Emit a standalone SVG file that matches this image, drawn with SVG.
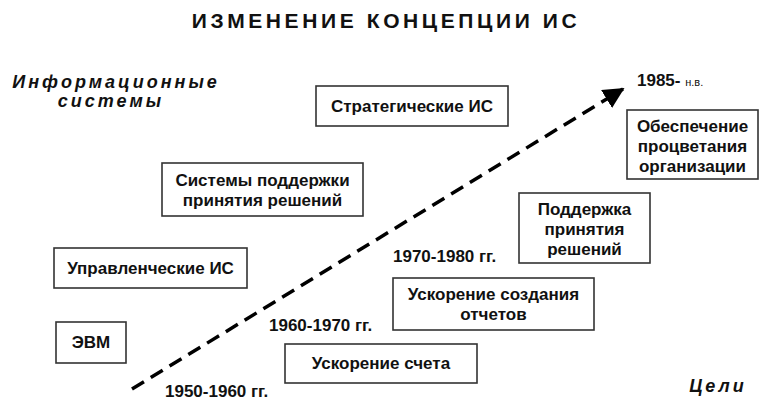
<svg xmlns="http://www.w3.org/2000/svg" width="767" height="405" viewBox="0 0 767 405">
<defs>
<style>
.box{fill:#fff;stroke:#333;stroke-width:1.6}
.t{font-family:"Liberation Sans",Arial,sans-serif;font-weight:bold;font-size:17px;fill:#111;text-anchor:middle}
.lbl{font-family:"Liberation Sans",Arial,sans-serif;font-weight:bold;font-size:17px;fill:#111}
.it{font-family:"Liberation Sans",Arial,sans-serif;font-weight:bold;font-style:italic;font-size:18px;fill:#111;letter-spacing:3px}
</style>
<marker id="ah" markerWidth="8" markerHeight="8" refX="5.5" refY="3" orient="auto" markerUnits="strokeWidth">
<path d="M0,0 L6,3 L0,6 z" fill="#000"/>
</marker>
</defs>
<rect width="767" height="405" fill="#fff"/>
<text x="386" y="28" text-anchor="middle" font-family="Liberation Sans,Arial,sans-serif" font-weight="bold" font-size="21" letter-spacing="3.6" fill="#111">ИЗМЕНЕНИЕ КОНЦЕПЦИИ ИС</text>
<text class="it" x="116" y="88" text-anchor="middle">Информационные</text>
<text class="it" x="111" y="107" text-anchor="middle">системы</text>
<text class="it" x="718" y="392" text-anchor="middle">Цели</text>
<g id="connectors">
<line x1="132" y1="389" x2="623" y2="89" stroke="#000" stroke-width="3.5" stroke-dasharray="14,8" marker-end="url(#ah)"/>
</g>
<g id="n-strat"><rect class="box" x="316" y="86" width="192" height="40"/><text class="t" x="412" y="112">Стратегические ИС</text></g>
<g id="n-sppr"><rect class="box" x="162" y="163" width="201" height="53"/><text class="t" x="262.5" y="186">Системы поддержки</text><text class="t" x="262.5" y="206">принятия решений</text></g>
<g id="n-upr"><rect class="box" x="54" y="248" width="193" height="40"/><text class="t" x="150.5" y="274">Управленческие ИС</text></g>
<g id="n-evm"><rect class="box" x="56" y="322" width="70" height="41"/><text class="t" x="91" y="348">ЭВМ</text></g>
<g id="n-schet"><rect class="box" x="285" y="344" width="192" height="39"/><text class="t" x="381" y="369">Ускорение счета</text></g>
<g id="n-otch"><rect class="box" x="393" y="278" width="201" height="52"/><text class="t" x="493.5" y="300">Ускорение создания</text><text class="t" x="493.5" y="320">отчетов</text></g>
<g id="n-podd"><rect class="box" x="519" y="193" width="131" height="70"/><text class="t" x="584.5" y="215">Поддержка</text><text class="t" x="584.5" y="235">принятия</text><text class="t" x="584.5" y="255">решений</text></g>
<g id="n-obesp"><rect class="box" x="627" y="110" width="131" height="69"/><text class="t" x="692.5" y="132">Обеспечение</text><text class="t" x="692.5" y="152">процветания</text><text class="t" x="692.5" y="172">организации</text></g>
<text class="lbl" x="637" y="86">1985- <tspan font-size="11" font-weight="normal">н.в.</tspan></text>
<text class="lbl" x="393" y="262">1970-1980 гг.</text>
<text class="lbl" x="269" y="331">1960-1970 гг.</text>
<text class="lbl" x="165" y="397">1950-1960 гг.</text>
</svg>
